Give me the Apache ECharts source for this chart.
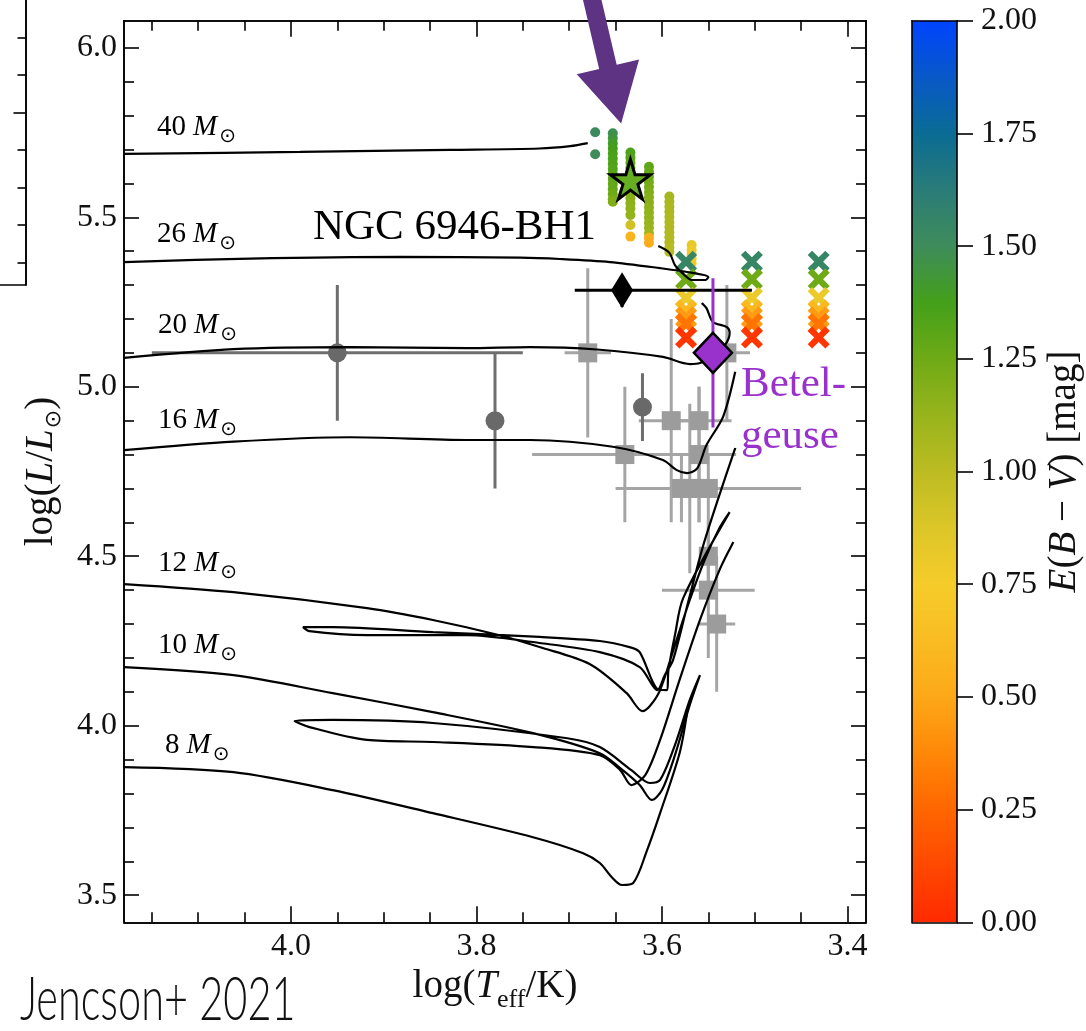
<!DOCTYPE html>
<html>
<head>
<meta charset="utf-8">
<script src="https://cdn.jsdelivr.net/npm/echarts@6/dist/echarts.min.js"></script>
<style>
  html, body { margin: 0; padding: 0; background: #fff; }
  #chart { width: 1086px; height: 1031px; }
</style>
</head>
<body>
<div id="chart"></div>
<script>
// ---------- axes ----------
const xMajorTicks = [3.4, 3.6, 3.8, 4.0];
const xMinorTicks = [3.45, 3.5, 3.55, 3.65, 3.7, 3.75, 3.85, 3.9, 3.95, 4.05, 4.1, 4.15];
const yMajorTicks = [3.5, 4.0, 4.5, 5.0, 5.5, 6.0];
const yMinorTicks = [3.6, 3.7, 3.8, 3.9, 4.1, 4.2, 4.3, 4.4, 4.6, 4.7, 4.8, 4.9,
                     5.1, 5.2, 5.3, 5.4, 5.6, 5.7, 5.8, 5.9];
const cbarTicks = [0, 0.25, 0.5, 0.75, 1.0, 1.25, 1.5, 1.75, 2.0];
const sideMajorTicks = [4];
const sideMinorTicks = [0, 1, 2, 3, 5, 6];

// E(B-V) colour scale, equally spaced from 0 to 2 mag
const cmapColors = ['#ff2a00', '#ff4800', '#ff6600', '#ff8808', '#fda818', '#f9bc22',
                    '#f5cc2a', '#dcc628', '#bcbc22', '#98b41c', '#6eaa16', '#44a01a',
                    '#3e8c5a', '#2a7c78', '#0a6c94', '#0858c8', '#0044ff'];

// ---------- evolutionary tracks [logTeff, logL] ----------
const track40 = [[4.180, 5.687], [3.990, 5.693], [3.829, 5.699], [3.732, 5.703],
                 [3.699, 5.710], [3.680, 5.719]];
const track26 = [[4.180, 5.368], [4.044, 5.378], [3.882, 5.383], [3.753, 5.381],
                 [3.710, 5.377], [3.656, 5.368], [3.602, 5.350], [3.567, 5.336],
                 [3.550, 5.324], [3.553, 5.315], [3.568, 5.315], [3.577, 5.333],
                 [3.586, 5.359], [3.592, 5.395], [3.604, 5.415]];
const track20 = [[4.180, 5.085], [4.062, 5.111], [3.936, 5.117], [3.810, 5.114],
                 [3.742, 5.117], [3.670, 5.110], [3.599, 5.088], [3.570, 5.067],
                 [3.559, 5.070], [3.545, 5.094], [3.532, 5.123], [3.527, 5.159],
                 [3.530, 5.176], [3.545, 5.191], [3.552, 5.232], [3.557, 5.247]];
const track16 = [[4.180, 4.813], [4.062, 4.838], [3.936, 4.851], [3.810, 4.843],
                 [3.742, 4.843], [3.653, 4.823], [3.599, 4.784], [3.584, 4.754],
                 [3.573, 4.745], [3.562, 4.759], [3.552, 4.828], [3.534, 4.912],
                 [3.521, 5.044]];
const track12 = [[4.180, 4.418], [4.062, 4.394], [3.918, 4.347], [3.847, 4.312],
                 [3.775, 4.267], [3.732, 4.232], [3.678, 4.182], [3.638, 4.096],
                 [3.621, 4.043], [3.613, 4.058], [3.602, 4.105], [3.586, 4.238],
                 [3.570, 4.371], [3.554, 4.489], [3.538, 4.583], [3.527, 4.630],
                 [3.577, 4.377], [3.586, 4.267], [3.593, 4.164], [3.595, 4.105],
                 [3.606, 4.111], [3.624, 4.217], [3.635, 4.232], [3.667, 4.250],
                 [3.732, 4.262], [3.847, 4.276], [3.955, 4.291], [3.987, 4.291],
                 [3.980, 4.279], [3.918, 4.267], [3.810, 4.267], [3.732, 4.244],
                 [3.667, 4.217], [3.624, 4.173], [3.605, 4.105], [3.597, 4.149],
                 [3.588, 4.194], [3.572, 4.362], [3.556, 4.527], [3.538, 4.681],
                 [3.521, 4.819]];
const track10 = [[4.180, 4.173], [4.062, 4.149], [3.955, 4.096], [3.847, 4.040],
                 [3.739, 3.978], [3.667, 3.919], [3.645, 3.875], [3.624, 3.825],
                 [3.611, 3.781], [3.600, 3.810], [3.586, 3.913], [3.570, 4.061],
                 [3.559, 4.149], [3.570, 4.076], [3.586, 3.943], [3.602, 3.840],
                 [3.613, 3.831], [3.633, 3.869], [3.667, 3.937], [3.702, 3.963],
                 [3.847, 4.008], [3.955, 4.017], [3.996, 4.014], [3.980, 3.996],
                 [3.918, 3.958], [3.847, 3.952], [3.739, 3.937], [3.667, 3.913],
                 [3.645, 3.869], [3.633, 3.825], [3.618, 3.854], [3.602, 3.958],
                 [3.581, 4.135], [3.559, 4.312], [3.538, 4.459], [3.523, 4.542]];
const track8 = [[4.180, 3.878], [4.062, 3.863], [3.955, 3.810], [3.847, 3.742],
                [3.739, 3.671], [3.685, 3.624], [3.667, 3.595], [3.654, 3.553],
                [3.643, 3.530], [3.631, 3.536], [3.616, 3.633], [3.602, 3.742],
                [3.581, 3.919], [3.573, 4.037]];
const trackNames = ['40', '26', '20', '16', '12', '10', '8'];

// ---------- fits for the progenitor, coloured by E(B-V) [logTeff, logL, E(B-V)] ----------
const fitDots = [
  [3.672, 5.751, 1.52], [3.672, 5.686, 1.50],
  [3.653, 5.748, 1.48], [3.653, 5.733, 1.45], [3.653, 5.718, 1.40], [3.653, 5.703, 1.38],
  [3.653, 5.688, 1.36], [3.653, 5.673, 1.35], [3.653, 5.658, 1.34], [3.653, 5.643, 1.33],
  [3.653, 5.628, 1.32], [3.653, 5.613, 1.30], [3.653, 5.598, 1.29], [3.653, 5.583, 1.28],
  [3.653, 5.568, 1.25], [3.653, 5.553, 1.22], [3.653, 5.546, 1.20],
  [3.634, 5.691, 1.35], [3.634, 5.676, 1.32], [3.634, 5.661, 1.30], [3.634, 5.646, 1.28],
  [3.634, 5.631, 1.26], [3.634, 5.616, 1.25], [3.634, 5.601, 1.24], [3.634, 5.586, 1.22],
  [3.634, 5.571, 1.20], [3.634, 5.556, 1.18], [3.634, 5.541, 1.16], [3.634, 5.526, 1.15],
  [3.634, 5.507, 1.14], [3.634, 5.477, 0.92], [3.634, 5.443, 0.58],
  [3.614, 5.649, 1.30], [3.614, 5.634, 1.28], [3.614, 5.619, 1.26], [3.614, 5.604, 1.24],
  [3.614, 5.589, 1.22], [3.614, 5.574, 1.20], [3.614, 5.559, 1.18], [3.614, 5.544, 1.17],
  [3.614, 5.529, 1.16], [3.614, 5.514, 1.15], [3.614, 5.499, 1.14], [3.614, 5.484, 1.13],
  [3.614, 5.469, 1.12], [3.614, 5.453, 1.10], [3.614, 5.440, 0.55], [3.614, 5.425, 0.52],
  [3.592, 5.561, 1.08], [3.592, 5.546, 1.07], [3.592, 5.531, 1.06], [3.592, 5.516, 1.06],
  [3.592, 5.501, 1.05], [3.592, 5.486, 1.05], [3.592, 5.471, 1.04], [3.592, 5.456, 1.04],
  [3.592, 5.441, 1.03], [3.592, 5.426, 1.03], [3.592, 5.411, 1.02], [3.592, 5.398, 1.02],
  [3.568, 5.418, 0.82], [3.568, 5.404, 0.80], [3.568, 5.391, 0.80], [3.568, 5.378, 0.79],
  [3.568, 5.365, 0.78]
];
const fitCrosses = [
  [3.574, 5.369, 1.55], [3.574, 5.317, 1.25], [3.574, 5.262, 0.80], [3.574, 5.225, 0.60],
  [3.574, 5.205, 0.45], [3.574, 5.185, 0.30], [3.574, 5.145, 0.05],
  [3.503, 5.369, 1.55], [3.503, 5.317, 1.25], [3.503, 5.262, 0.80], [3.503, 5.225, 0.60],
  [3.503, 5.205, 0.45], [3.503, 5.185, 0.30], [3.503, 5.145, 0.05],
  [3.431, 5.369, 1.55], [3.431, 5.317, 1.25], [3.431, 5.262, 0.80], [3.431, 5.225, 0.60],
  [3.431, 5.205, 0.45], [3.431, 5.185, 0.30], [3.431, 5.145, 0.05]
];
const progenitorStar = [[3.634, 5.612]];

// ---------- comparison stars [logTeff, logL, dlogTeff, dlogL] ----------
const rsgSquares = [
  [3.680, 5.10, 0.025, 0.25], [3.640, 4.80, 0.10, 0.20], [3.590, 4.90, 0.035, 0.30],
  [3.560, 4.90, 0.035, 0.10], [3.560, 4.80, 0.04, 0.20], [3.530, 5.10, 0.025, 0.20],
  [3.579, 4.70, 0.03, 0.10], [3.570, 4.70, 0.02, 0.25], [3.560, 4.70, 0.02, 0.10],
  [3.550, 4.70, 0.10, 0.10], [3.550, 4.50, 0.01, 0.10], [3.550, 4.40, 0.05, 0.20],
  [3.541, 4.30, 0.02, 0.20]
];
const darkCircles = [[3.950, 5.10, 0.20, 0.20], [3.780, 4.90, 0.0, 0.20], [3.621, 4.94, 0.0, 0.10]];

// BH1 candidate [logTeff, logL, dT toward hot, dT toward cool, dlogL]
const bh1 = [3.643, 5.285, 0.051, 0.140, 0.05];
// Betelgeuse [logTeff, logL, dlogTeff, dlogL]
const betelgeuse = [3.545, 5.100, 0.02, 0.22];

// arrow tip (data coords)
const arrowTip = [3.644, 5.777];

// ---------- helpers ----------
const serif = 'Liberation Serif, DejaVu Serif, serif';
const textColor = '#111';

function errorBars(rows, color, z) {
  return {
    type: 'custom', xAxisIndex: 0, yAxisIndex: 0, z: z, silent: true,
    clip: true,
    data: rows,
    encode: { x: 0, y: 1 },
    renderItem: function (params, api) {
      const x = api.value(0), y = api.value(1);
      const hot = api.value(2), cool = api.value(3), up = api.value(4), down = api.value(5);
      const kids = [];
      if (hot > 0 || cool > 0) {
        const a = api.coord([x + hot, y]), b = api.coord([x - cool, y]);
        kids.push({ type: 'line', shape: { x1: a[0], y1: a[1], x2: b[0], y2: b[1] },
                    style: { stroke: color, lineWidth: 3 } });
      }
      if (up > 0 || down > 0) {
        const a = api.coord([x, y + up]), b = api.coord([x, y - down]);
        kids.push({ type: 'line', shape: { x1: a[0], y1: a[1], x2: b[0], y2: b[1] },
                    style: { stroke: color, lineWidth: 3 } });
      }
      return { type: 'group', children: kids };
    }
  };
}
const symErr = r => [r[0], r[1], r[2], r[2], r[3], r[3]];

const axisLineStyle = { show: true, onZero: false, lineStyle: { color: '#000', width: 1.6 } };
function mainX(position, ticks, len, labels) {
  return {
    type: 'value', gridIndex: 0, position: position, inverse: true, min: 3.38, max: 4.18,
    z: 6,
    axisLine: axisLineStyle,
    axisTick: { show: true, inside: true, length: len, customValues: ticks,
                lineStyle: { color: '#000', width: 1.6 } },
    axisLabel: labels ? { show: true, customValues: ticks, margin: 8, color: textColor,
                          fontFamily: serif, fontSize: 32,
                          formatter: v => Number(v).toFixed(1) } : { show: false },
    splitLine: { show: false }
  };
}
function mainY(position, ticks, len, labels) {
  return {
    type: 'value', gridIndex: 0, position: position, min: 3.42, max: 6.08,
    z: 6,
    axisLine: axisLineStyle,
    axisTick: { show: true, inside: true, length: len, customValues: ticks,
                lineStyle: { color: '#000', width: 1.6 } },
    axisLabel: labels ? { show: true, customValues: ticks, margin: 7, color: textColor,
                          fontFamily: serif, fontSize: 32,
                          formatter: v => Number(v).toFixed(1) } : { show: false },
    splitLine: { show: false }
  };
}

const richSub = {
  a: { fontFamily: serif, fontSize: 39, color: textColor, lineHeight: 44, verticalAlign: 'top' },
  i: { fontFamily: serif, fontStyle: 'italic', fontSize: 39, color: textColor, lineHeight: 44, verticalAlign: 'top' },
  e: { fontFamily: serif, fontSize: 26, color: textColor, lineHeight: 28, padding: [20, 0, 0, 0], verticalAlign: 'top' },
  s: { fontFamily: 'DejaVu Sans', fontSize: 22, color: textColor, lineHeight: 26, padding: [21, 0, 0, 1], verticalAlign: 'top' }
};

const trackRich = {
  n: { fontFamily: serif, fontSize: 29, color: '#222', lineHeight: 32, verticalAlign: 'top' },
  m: { fontFamily: serif, fontStyle: 'italic', fontSize: 29, color: '#222', lineHeight: 32,
       padding: [0, 0, 0, 7], verticalAlign: 'top' },
  s: { fontFamily: 'DejaVu Sans', fontSize: 20, color: '#222', lineHeight: 22, padding: [14, 0, 0, 2], verticalAlign: 'top' }
};
const trackLabelPos = [[157, 113], [157, 220], [158, 311], [158, 406], [158, 549], [158, 631], [165, 731]];

const tracks = [track40, track26, track20, track16, track12, track10, track8];

const xPath = 'path://M0,2 L2,0 L5,3 L8,0 L10,2 L7,5 L10,8 L8,10 L5,7 L2,10 L0,8 L3,5 Z';
const starPath = 'path://M50,0 L61,35 L98,35 L68,57 L79,91 L50,70 L21,91 L32,57 L2,35 L39,35 Z';
const thinDiamond = 'path://M0,-10 L6,0 L0,10 L-6,0 Z';

const chart = echarts.init(document.getElementById('chart'), null, { renderer: 'canvas' });

const series = [];
series.push(errorBars(rsgSquares.map(symErr), '#a5a5a5', 1));
series.push(errorBars(darkCircles.map(symErr), '#6e6e6e', 1));
series.push({ type: 'scatter', xAxisIndex: 0, yAxisIndex: 0, z: 2, silent: true,
  symbol: 'rect', symbolSize: 19, itemStyle: { color: '#9c9c9c', opacity: 1 },
  data: rsgSquares.map(r => [r[0], r[1]]) });
series.push({ type: 'scatter', xAxisIndex: 0, yAxisIndex: 0, z: 2, silent: true,
  symbol: 'circle', symbolSize: 19, itemStyle: { color: '#696969', opacity: 1 },
  data: darkCircles.map(r => [r[0], r[1]]) });
const dotsIndex = series.length;
series.push({ type: 'scatter', xAxisIndex: 0, yAxisIndex: 0, z: 3, silent: true,
  symbol: 'circle', symbolSize: 10, itemStyle: { opacity: 1 }, data: fitDots });
const crossIndex = series.length;
series.push({ type: 'scatter', xAxisIndex: 0, yAxisIndex: 0, z: 3, silent: true,
  symbol: xPath, symbolSize: 22, itemStyle: { opacity: 1 }, data: fitCrosses });
tracks.forEach((t, k) => {
  series.push({ type: 'line', name: trackNames[k] + ' Msun', xAxisIndex: 0, yAxisIndex: 0,
    z: 4, silent: true, symbol: 'none', smooth: 0.3, clip: true,
    lineStyle: { color: '#000', width: 2.2 }, data: t });
});
series.push(errorBars([[bh1[0], bh1[1], bh1[2], bh1[3], 0, bh1[4]]], '#000', 5));
series.push({ type: 'scatter', xAxisIndex: 0, yAxisIndex: 0, z: 6, silent: true,
  symbol: thinDiamond, symbolSize: [22, 36], itemStyle: { color: '#000', opacity: 1 },
  data: [[bh1[0], bh1[1]]] });
series.push(errorBars([symErr(betelgeuse)], '#9932cc', 5));
series.push({ type: 'scatter', xAxisIndex: 0, yAxisIndex: 0, z: 6, silent: true,
  symbol: 'diamond', symbolSize: [38, 40],
  itemStyle: { color: '#9932cc', borderColor: '#000', borderWidth: 2.5, opacity: 1 },
  data: [[betelgeuse[0], betelgeuse[1]]] });
series.push({ type: 'scatter', xAxisIndex: 0, yAxisIndex: 0, z: 7, silent: true,
  symbol: starPath, symbolSize: 40,
  itemStyle: { color: '#66ad22', borderColor: '#000', borderWidth: 3, opacity: 1 },
  data: progenitorStar });
// colour bar
series.push({ type: 'bar', xAxisIndex: 4, yAxisIndex: 4, silent: true, barWidth: '100%',
  z: 2,
  itemStyle: { color: { type: 'linear', x: 0, y: 1, x2: 0, y2: 0,
    colorStops: cmapColors.map((c, i) => ({ offset: i / (cmapColors.length - 1), color: c })) } },
  data: [cbarTicks[cbarTicks.length - 1]] });

const graphics = [];
trackNames.forEach((n, k) => {
  graphics.push({ type: 'text', left: trackLabelPos[k][0], top: trackLabelPos[k][1], silent: true,
    style: { text: '{n|' + n + '}{m|M}{s|⊙}', rich: trackRich } });
});
graphics.push({ type: 'text', x: 313, y: 228, silent: true,
  style: { text: 'NGC 6946-BH1', fontFamily: serif, fontSize: 43, fill: '#000',
           textAlign: 'left', textVerticalAlign: 'middle' } });
graphics.push({ type: 'text', x: 741, y: 385, silent: true,
  style: { text: 'Betel-', fontFamily: serif, fontSize: 43, fill: '#9932cc',
           textAlign: 'left', textVerticalAlign: 'middle' } });
graphics.push({ type: 'text', x: 741, y: 437, silent: true,
  style: { text: 'geuse', fontFamily: serif, fontSize: 43, fill: '#9932cc',
           textAlign: 'left', textVerticalAlign: 'middle' } });
graphics.push({ type: 'text', x: 20, y: 1000, scaleX: 0.68, silent: true,
  style: { text: 'Jencson+ 2021', fontFamily: 'Lato, Open Sans, sans-serif', fontWeight: 300,
           fontSize: 61, fill: '#111', textAlign: 'left', textVerticalAlign: 'middle' } });

const option = {
  animation: false,
  backgroundColor: '#fff',
  grid: [
    { left: 124, top: 20.7, width: 742, height: 901.6, containLabel: false },
    { left: 912, top: 20.7, width: 45, height: 901.6, containLabel: false },
    { left: 0, top: 0, width: 25.5, height: 285, containLabel: false }
  ],
  xAxis: [
    Object.assign(mainX('bottom', xMajorTicks, 16, true), {
      name: '{a|log(}{i|T}{e|eff}{a|/K)}', nameLocation: 'middle', nameGap: 40,
      nameTextStyle: { rich: richSub } }),
    mainX('bottom', xMinorTicks, 10, false),
    mainX('top', xMajorTicks, 16, false),
    mainX('top', xMinorTicks, 10, false),
    { type: 'category', gridIndex: 1, position: 'bottom', data: [''], z: 6,
      axisLine: axisLineStyle, axisTick: { show: false }, axisLabel: { show: false } },
    { type: 'category', gridIndex: 1, position: 'top', data: [''], z: 6,
      axisLine: axisLineStyle, axisTick: { show: false }, axisLabel: { show: false } },
    { type: 'value', gridIndex: 2, position: 'bottom', min: 0, max: 1, z: 6,
      axisLine: axisLineStyle, axisTick: { show: false }, axisLabel: { show: false },
      splitLine: { show: false } }
  ],
  yAxis: [
    Object.assign(mainY('left', yMajorTicks, 15, true), {
      name: '{a|log(}{i|L}{a|/}{i|L}{s|⊙}{a|)}', nameLocation: 'middle', nameGap: 58,
      nameRotate: 90, nameTextStyle: { rich: richSub } }),
    mainY('left', yMinorTicks, 10, false),
    mainY('right', yMajorTicks, 15, false),
    mainY('right', yMinorTicks, 10, false),
    { type: 'value', gridIndex: 1, position: 'right', min: 0, max: 2, interval: 0.25, z: 6,
      axisLine: axisLineStyle,
      axisTick: { show: true, inside: false, length: 16, lineStyle: { color: '#000', width: 1.6 } },
      axisLabel: { show: true, margin: 24, color: textColor, fontFamily: serif, fontSize: 32,
                   formatter: v => Number(v).toFixed(2) },
      splitLine: { show: false },
      name: '{i|E}{a|(}{i|B}{a| − }{i|V}{a|) [mag]}', nameLocation: 'middle', nameGap: 88,
      nameRotate: 90, nameTextStyle: { rich: richSub } },
    { type: 'value', gridIndex: 1, position: 'left', min: 0, max: 2, z: 6,
      axisLine: axisLineStyle, axisTick: { show: false }, axisLabel: { show: false },
      splitLine: { show: false } },
    { type: 'value', gridIndex: 2, position: 'right', min: -0.6, max: 7.0, z: 6,
      axisLine: axisLineStyle,
      axisTick: { show: true, inside: true, length: 12, customValues: sideMajorTicks,
                  lineStyle: { color: '#000', width: 1.6 } },
      axisLabel: { show: false }, splitLine: { show: false } },
    { type: 'value', gridIndex: 2, position: 'right', min: -0.6, max: 7.0, z: 6,
      axisLine: axisLineStyle,
      axisTick: { show: true, inside: true, length: 8, customValues: sideMinorTicks,
                  lineStyle: { color: '#000', width: 1.6 } },
      axisLabel: { show: false }, splitLine: { show: false } }
  ],
  visualMap: [{
    type: 'continuous', show: false, min: 0, max: 2, dimension: 2,
    seriesIndex: [dotsIndex, crossIndex], inRange: { color: cmapColors }
  }],
  series: series,
  graphic: graphics
};

chart.setOption(option);

// pointer arrow toward the progenitor fits
const tip = chart.convertToPixel({ gridIndex: 0 }, arrowTip);
const dir = [0.228, 0.974];
const nrm = [-dir[1], dir[0]];
const headLen = 58, headHalf = 32, shaftHalf = 9, shaftLen = 160;
const base = [tip[0] - dir[0] * headLen, tip[1] - dir[1] * headLen];
const tail = [tip[0] - dir[0] * shaftLen, tip[1] - dir[1] * shaftLen];
const arrowPts = [
  [tail[0] + nrm[0] * shaftHalf, tail[1] + nrm[1] * shaftHalf],
  [base[0] + nrm[0] * shaftHalf, base[1] + nrm[1] * shaftHalf],
  [base[0] + nrm[0] * headHalf, base[1] + nrm[1] * headHalf],
  tip,
  [base[0] - nrm[0] * headHalf, base[1] - nrm[1] * headHalf],
  [base[0] - nrm[0] * shaftHalf, base[1] - nrm[1] * shaftHalf],
  [tail[0] - nrm[0] * shaftHalf, tail[1] - nrm[1] * shaftHalf]
];
graphics.push({ type: 'polygon', silent: true, z: 100,
  shape: { points: arrowPts }, style: { fill: '#5f3383' } });
chart.setOption({ graphic: graphics });
</script>
</body>
</html>
